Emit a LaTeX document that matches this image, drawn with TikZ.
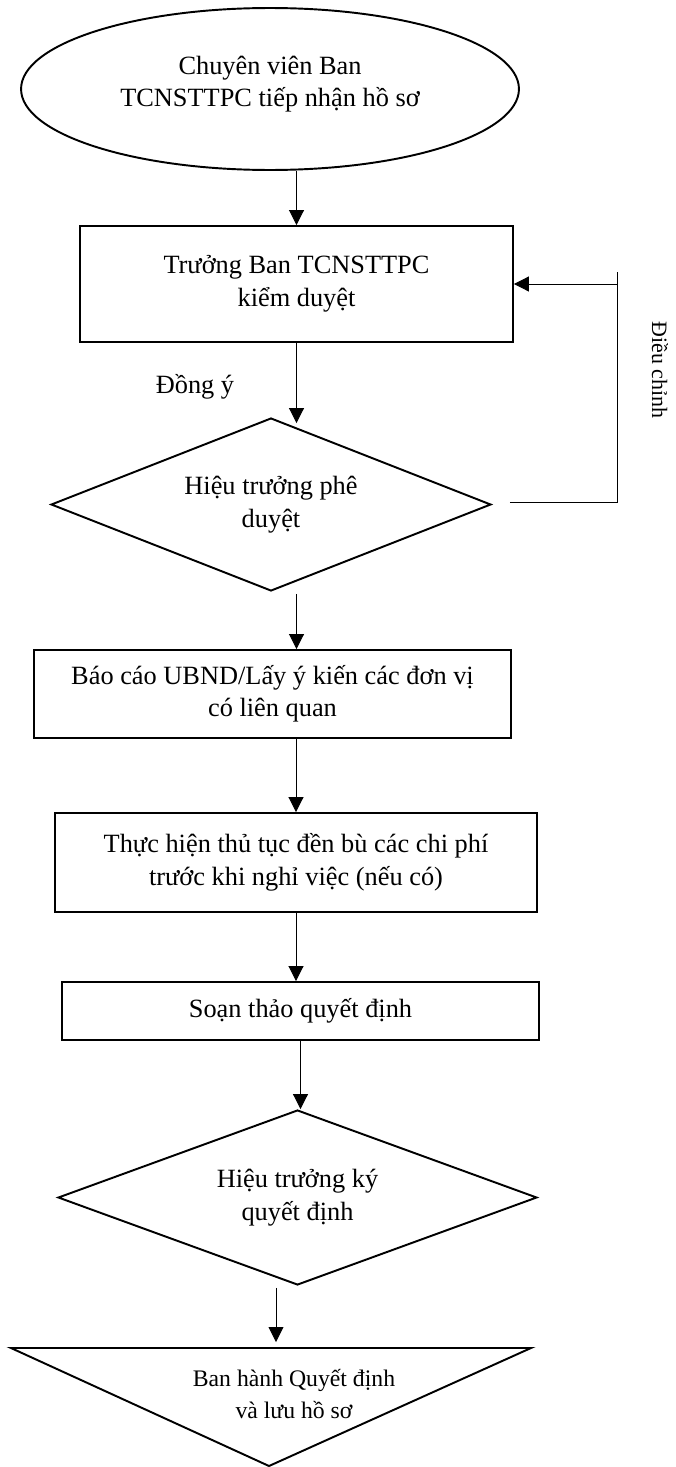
\documentclass[tikz,border=0pt]{standalone}
\usepackage{fontspec}
\setmainfont{Liberation Serif}
\usetikzlibrary{shapes.geometric,arrows.meta,calc}
\tikzset{
	boxline/.style={draw=black, line width=1.1pt},
	stepbox/.style={boxline, rectangle, inner sep=0pt, align=center, font=\fontsize{15}{18.5}\selectfont},
	stepdiam/.style={boxline, diamond, inner sep=0pt, align=center, font=\fontsize{15}{18.5}\selectfont},
	arr/.style={draw=black, line width=0.5pt, -{Triangle[length=8.5pt,width=8.5pt]}},
	plain/.style={draw=black, line width=0.5pt}
}
\begin{document}
\begin{tikzpicture}[x=0.02cm, y=-0.02cm]
			\useasboundingbox (0,0) rectangle (676,1467);
			\node[boxline, ellipse, inner sep=0pt, minimum width=9.96cm, minimum height=3.24cm, text depth=0.3cm, align=center, font=\fontsize{15}{18.5}\selectfont] (start) at (270,89) {Chuyên viên Ban\\TCNSTTPC tiếp nhận hồ sơ};
			\node[stepbox, minimum width=8.66cm, minimum height=2.32cm] (check) at (296.5,284) {Trưởng Ban TCNSTTPC\\kiểm duyệt};
			\node[stepdiam, aspect=2.54, minimum width=8.8cm, minimum height=3.46cm] (approve) at (271,504.5) {Hiệu trưởng phê\\duyệt};
			\node[stepbox, minimum width=9.54cm, minimum height=1.76cm] (report) at (272.5,694) {Báo cáo UBND/Lấy ý kiến các đơn vị\\có liên quan};
			\node[stepbox, minimum width=9.64cm, minimum height=1.98cm] (refund) at (296,862.5) {Thực hiện thủ tục đền bù các chi phí\\trước khi nghỉ việc (nếu có)};
			\node[stepbox, minimum width=9.54cm, minimum height=1.16cm] (draft) at (300.5,1011) {Soạn thảo quyết định};
			\node[stepdiam, aspect=2.74, minimum width=9.58cm, minimum height=3.5cm] (sign) at (297.5,1197.5) {Hiệu trưởng ký\\quyết định};
			\draw[boxline] (11,1348) -- (531,1348) -- (269,1466) -- cycle;
			\node[align=center, font=\fontsize{13.5}{18}\selectfont] (issue) at (294,1394) {Ban hành Quyết định\\và lưu hồ sơ};
			\node[font=\fontsize{15}{18.5}\selectfont] (agree) at (195,387) {Đồng ý};
			\node[rotate=-90, font=\fontsize{12.5}{15}\selectfont] (adjust) at (660,370) {Điều chỉnh};
			\coordinate (back) at (617,272);
			\coordinate (end) at (276,1342);
			\draw[arr] (start.south -| check.north) -- (check.north);
			\draw[arr] (check.south) -- ($(check.south |- approve.north)+(0,6)$);
			\draw[arr] ($(approve.south -| check.south)+(0,2)$) -- (report.north -| check.south);
			\draw[arr] (report.south -| refund.north) -- (refund.north);
			\draw[arr] (refund.south) -- (refund.south |- draft.north);
			\draw[arr] (draft.south) -- (draft.south |- sign.north);
			\draw[arr] ($(sign.south)+(-21.5,2)$) -- (end);
			\draw[plain] ($(approve.east)+(18,-2)$) -| (back);
			\draw[arr] (back |- check.east) -- (check.east);
		\end{tikzpicture}
\end{document}
